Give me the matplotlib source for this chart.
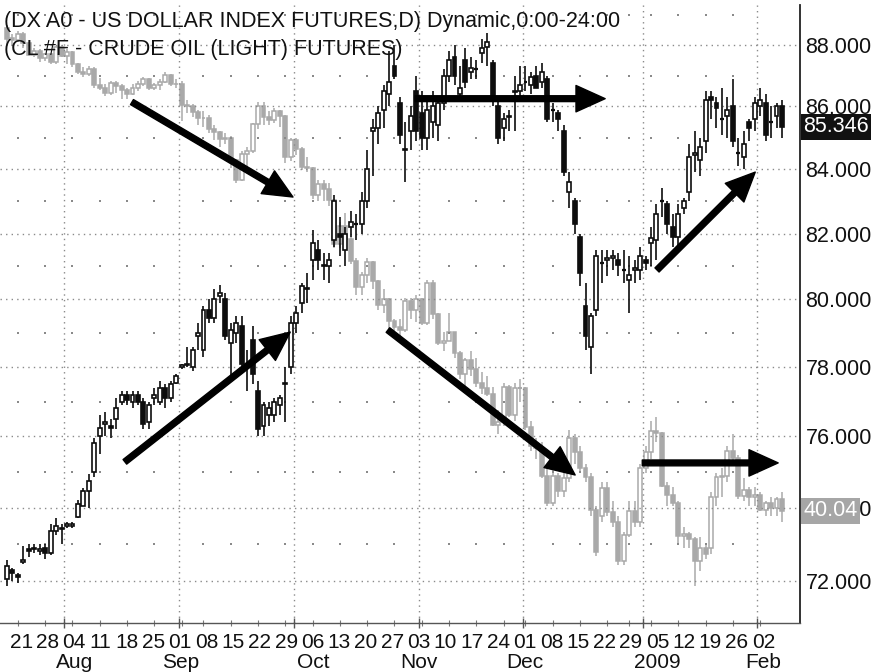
import matplotlib
matplotlib.use("Agg")
import matplotlib.pyplot as plt
import numpy as np
import pandas as pd
from matplotlib.patches import Rectangle
from matplotlib.ticker import FixedLocator, NullLocator, FuncFormatter
from matplotlib.transforms import blended_transform_factory

# ---------------- data ----------------
holidays = ["2008-09-01", "2008-11-27", "2008-12-25", "2009-01-01"]
dates = pd.bdate_range("2008-07-17", "2009-02-06")
dates = dates[~dates.isin(pd.to_datetime(holidays))]

# US Dollar Index futures (black candles)
dx_open = [72.05, 72.30, 72.15, 72.50, 72.85, 72.85, 72.80, 72.90, 72.75, 73.35,
           73.45, 73.50, 73.50, 73.75, 74.05, 74.45, 75.00, 76.00, 76.35, 76.30,
           76.50, 77.00, 77.20, 77.00, 77.20, 77.00, 76.40, 77.10, 77.00, 77.40,
           77.10, 77.55, 78.00, 78.05, 78.00, 78.90, 78.50, 79.70, 79.45, 80.10,
           80.00, 78.70, 79.00, 79.20, 78.05, 78.80, 77.30, 76.30, 76.60, 76.60,
           76.90, 77.50, 78.00, 79.30, 79.90, 80.30, 81.20, 81.50, 81.00, 81.00,
           81.80, 82.00, 81.50, 82.20, 82.30, 82.30, 83.00, 85.20, 85.30, 85.90,
           86.40, 87.30, 86.10, 84.60, 85.20, 86.50, 85.80, 85.00, 85.50, 85.40,
           86.10, 87.00, 87.60, 86.40, 87.50, 87.10, 87.20, 87.75, 87.95, 87.40,
           86.00, 85.30, 85.65, 86.45, 86.50, 86.80, 86.70, 87.00, 86.80, 86.90,
           85.90, 85.80, 85.20, 83.30, 83.00, 81.90, 79.80, 78.60, 79.70, 81.10,
           81.20, 81.25, 81.20, 80.90, 80.60, 80.90, 80.90, 81.20, 81.70, 81.80,
           83.00, 82.90, 82.20, 81.90, 82.80, 83.30, 84.45, 84.30, 84.90, 86.30,
           86.10, 85.60, 85.70, 86.00, 84.50, 84.40, 85.50, 85.60, 86.00, 86.10,
           85.50, 85.70, 86.00]
dx_high = [72.55, 72.35, 72.20, 72.95, 73.00, 73.00, 73.00, 73.00, 73.55, 73.70,
           73.55, 73.60, 73.60, 74.20, 74.55, 74.95, 75.95, 76.60, 76.70, 76.50,
           77.10, 77.30, 77.30, 77.30, 77.30, 77.10, 77.00, 77.40, 77.60, 77.50,
           77.60, 77.80, 78.10, 78.60, 78.60, 79.30, 79.80, 80.00, 80.30, 80.45,
           80.20, 79.30, 79.50, 79.50, 78.50, 79.20, 77.60, 77.00, 77.00, 77.10,
           77.20, 78.00, 79.50, 79.80, 80.50, 80.80, 82.10, 81.80, 81.40, 81.40,
           83.20, 82.50, 82.20, 82.70, 82.60, 83.30, 84.60, 85.60, 86.00, 86.70,
           87.80, 88.00, 86.30, 85.50, 86.00, 87.00, 86.50, 86.30, 86.50, 86.30,
           87.20, 87.80, 88.00, 87.30, 87.90, 87.60, 87.50, 88.20, 88.40, 87.50,
           86.30, 85.80, 85.90, 87.00, 87.30, 87.30, 87.10, 87.30, 87.40, 87.00,
           86.10, 85.90, 85.40, 83.90, 83.10, 82.00, 80.50, 79.60, 81.50, 81.50,
           81.50, 81.50, 81.40, 81.50, 81.30, 81.20, 81.60, 81.30, 82.20, 82.90,
           83.40, 83.00, 82.60, 82.90, 83.10, 84.80, 85.20, 85.00, 86.50, 86.50,
           86.30, 86.60, 86.30, 86.90, 85.00, 85.20, 85.60, 86.30, 86.60, 86.40,
           86.00, 86.10, 86.20]
dx_low = [71.85, 72.00, 71.95, 72.45, 72.65, 72.75, 72.70, 72.60, 72.70, 73.25,
          73.00, 73.45, 73.45, 73.70, 74.05, 74.00, 74.85, 75.50, 76.00, 75.95,
          76.20, 76.90, 76.90, 76.80, 76.90, 76.20, 76.20, 76.90, 76.90, 76.80,
          77.00, 77.50, 77.95, 78.00, 77.90, 78.50, 78.30, 79.30, 79.30, 79.90,
          78.80, 77.70, 78.70, 77.90, 77.30, 77.50, 76.00, 76.00, 76.30, 76.40,
          76.60, 76.40, 77.80, 79.00, 79.60, 79.90, 80.60, 80.90, 80.60, 80.50,
          81.60, 81.30, 81.00, 81.90, 81.80, 82.00, 82.80, 83.80, 84.80, 85.30,
          86.00, 86.90, 84.80, 83.60, 84.60, 84.90, 84.60, 84.60, 85.00, 84.90,
          85.90, 86.80, 86.70, 86.20, 86.60, 86.90, 86.90, 87.40, 87.30, 86.00,
          84.80, 84.90, 85.20, 85.20, 86.20, 86.50, 86.40, 86.60, 86.60, 85.50,
          85.50, 85.20, 83.80, 82.80, 82.00, 80.40, 78.50, 77.80, 79.50, 80.50,
          80.70, 80.90, 80.70, 80.50, 79.60, 80.50, 80.60, 80.90, 81.00, 81.20,
          82.50, 82.00, 81.60, 81.50, 82.60, 83.00, 83.90, 83.80, 84.50, 85.60,
          85.30, 85.10, 85.00, 84.70, 84.10, 84.00, 84.90, 85.20, 85.70, 84.90,
          85.00, 85.30, 85.00]
dx_close = [72.40, 72.20, 72.10, 72.55, 72.80, 72.90, 72.85, 72.75, 73.35, 73.50,
            73.40, 73.55, 73.55, 74.10, 74.45, 74.75, 75.80, 76.25, 76.40, 76.25,
            76.80, 77.20, 77.05, 77.20, 77.00, 76.35, 76.90, 77.20, 77.40, 77.10,
            77.50, 77.75, 78.05, 78.10, 78.50, 79.00, 79.70, 79.45, 80.00, 80.20,
            78.90, 79.10, 79.30, 78.10, 78.00, 77.80, 76.20, 76.90, 76.80, 77.00,
            77.10, 77.55, 79.30, 79.60, 80.40, 80.35, 81.70, 81.20, 81.05, 81.20,
            83.00, 81.90, 82.00, 82.35, 82.30, 83.00, 84.00, 85.30, 85.80, 86.50,
            86.80, 87.00, 85.10, 84.65, 85.70, 85.20, 85.00, 85.90, 86.00, 86.10,
            87.00, 87.50, 87.00, 86.60, 86.80, 87.25, 87.20, 87.90, 88.10, 86.20,
            85.00, 85.60, 85.70, 86.50, 86.70, 86.80, 86.95, 86.60, 87.10, 85.60,
            85.90, 85.60, 83.90, 83.60, 82.30, 80.80, 78.90, 79.50, 81.30, 81.10,
            81.25, 81.30, 81.05, 80.90, 80.75, 80.95, 81.30, 81.10, 81.85, 82.60,
            83.00, 82.30, 81.90, 82.60, 83.00, 84.40, 84.50, 84.70, 86.20, 86.20,
            85.95, 85.60, 85.90, 84.90, 84.50, 84.80, 85.30, 86.10, 86.20, 85.10,
            85.50, 86.00, 85.35]

# Crude oil (light) futures, continuous (grey candles)
cl_open = [133.0, 129.5, 129.0, 131.0, 127.9, 124.4, 125.5, 123.3, 124.7, 122.2,
           126.8, 124.1, 125.1, 121.4, 119.2, 118.6, 120.0, 115.2, 114.5, 113.0,
           116.0, 115.0, 113.8, 112.9, 114.5, 115.6, 117.2, 114.6, 115.4, 116.3,
           118.2, 115.6, 115.5, 109.7, 109.4, 107.9, 106.2, 106.3, 103.3, 102.6,
           100.9, 101.2, 95.7, 91.2, 97.2, 97.9, 104.6, 109.4, 106.6, 105.7,
           108.0, 106.9, 96.4, 100.6, 98.5, 94.0, 93.9, 87.8, 90.1, 89.0,
           86.6, 77.7, 81.2, 78.6, 74.5, 69.9, 71.9, 74.3, 70.9, 66.8,
           67.8, 64.2, 63.2, 62.7, 67.5, 66.0, 67.8, 63.9, 70.5, 65.3,
           60.8, 61.0, 62.4, 59.3, 56.2, 58.2, 57.0, 55.0, 54.4, 53.6,
           49.6, 49.9, 54.5, 50.8, 54.4, 54.4, 49.3, 47.0, 46.8, 43.7,
           40.8, 43.7, 42.1, 43.5, 48.0, 46.3, 44.5, 43.6, 40.1, 39.5,
           42.4, 39.9, 39.0, 35.4, 37.7, 40.0, 39.0, 44.6, 46.3, 48.8,
           48.6, 42.6, 41.7, 40.8, 37.6, 37.8, 37.3, 35.4, 36.5, 36.5,
           41.5, 43.6, 43.7, 46.5, 45.7, 41.6, 42.2, 41.4, 41.7, 40.1,
           40.8, 40.3, 41.2]
cl_high = [134.0, 131.0, 132.0, 131.5, 128.5, 126.5, 126.0, 125.0, 125.0, 127.0,
           127.5, 126.0, 125.5, 121.8, 120.5, 121.0, 120.5, 117.5, 115.5, 116.5,
           116.5, 115.5, 114.5, 115.5, 116.5, 117.8, 117.5, 116.0, 117.0, 119.0,
           118.5, 117.0, 116.5, 111.0, 110.0, 108.5, 108.0, 107.0, 104.5, 102.8,
           102.5, 101.5, 96.0, 98.0, 99.0, 105.0, 110.5, 110.5, 108.0, 109.0,
           108.5, 107.0, 101.0, 101.0, 99.0, 96.5, 94.0, 91.0, 91.0, 90.5,
           86.8, 82.0, 84.0, 79.0, 75.0, 72.5, 75.0, 74.5, 71.0, 69.5,
           68.0, 64.5, 64.5, 68.0, 68.0, 68.5, 68.0, 71.0, 71.0, 65.5,
           62.5, 65.5, 62.5, 59.5, 58.5, 59.5, 58.5, 56.5, 56.0, 54.5,
           51.5, 55.0, 54.8, 55.0, 55.5, 54.5, 50.0, 48.0, 47.5, 44.5,
           44.5, 44.0, 44.0, 49.0, 48.5, 47.0, 45.0, 44.0, 40.5, 43.0,
           43.0, 41.0, 39.5, 38.0, 41.0, 41.0, 45.0, 47.0, 50.0, 50.5,
           48.7, 43.0, 42.5, 41.0, 38.5, 38.0, 37.5, 37.5, 37.0, 42.0,
           44.0, 44.5, 47.0, 48.5, 46.0, 43.5, 42.5, 42.5, 42.0, 41.0,
           41.5, 41.5, 42.0]
cl_low = [127.5, 127.0, 128.5, 126.5, 123.9, 123.5, 122.0, 122.5, 121.5, 121.5,
          123.5, 121.5, 120.5, 118.5, 117.8, 118.0, 114.6, 113.9, 112.2, 112.5,
          113.0, 111.3, 111.5, 112.5, 113.5, 115.0, 114.0, 114.0, 114.0, 116.0,
          115.0, 114.5, 105.5, 107.5, 106.5, 104.5, 104.0, 102.5, 100.5, 99.0,
          99.5, 93.9, 90.5, 90.8, 94.0, 97.5, 103.5, 104.5, 104.5, 105.0,
          104.0, 95.0, 95.5, 97.0, 93.5, 93.0, 87.0, 86.5, 86.5, 85.5,
          77.0, 77.0, 78.0, 74.0, 68.5, 68.5, 70.5, 69.5, 66.0, 65.5,
          62.5, 62.0, 61.5, 62.5, 64.5, 64.0, 63.5, 63.5, 64.5, 60.5,
          59.5, 61.0, 58.5, 55.5, 54.5, 56.0, 54.5, 53.5, 53.3, 49.5,
          48.5, 49.5, 50.5, 50.0, 52.5, 49.0, 46.5, 45.5, 43.5, 40.5,
          40.5, 41.5, 41.5, 43.0, 45.0, 44.0, 43.0, 39.5, 35.8, 39.0,
          39.5, 38.5, 35.0, 35.0, 37.5, 38.5, 38.5, 44.0, 45.5, 47.5,
          42.5, 40.5, 40.5, 37.0, 36.5, 36.5, 33.2, 34.5, 35.5, 36.0,
          40.5, 41.5, 43.0, 45.0, 41.2, 41.0, 40.5, 40.5, 40.0, 39.5,
          39.5, 39.5, 39.0]
cl_close = [129.3, 128.9, 131.0, 128.0, 124.4, 125.5, 123.3, 124.7, 122.2, 126.8,
            124.1, 125.1, 121.4, 119.2, 118.6, 120.0, 115.2, 114.5, 113.0, 116.0,
            115.0, 113.8, 112.9, 114.5, 115.6, 117.2, 114.6, 115.4, 116.3, 118.2,
            115.6, 115.5, 109.7, 109.4, 107.9, 106.2, 106.3, 103.3, 102.6, 100.9,
            101.2, 95.7, 91.2, 97.2, 97.9, 104.6, 109.4, 106.6, 105.7, 108.0,
            106.9, 96.4, 100.6, 98.5, 94.0, 93.9, 87.8, 90.1, 89.0, 86.6,
            77.7, 81.2, 78.6, 74.5, 69.9, 71.9, 74.3, 70.9, 66.8, 67.8,
            64.2, 63.2, 62.7, 67.5, 66.0, 67.8, 63.9, 70.5, 65.3, 60.8,
            61.0, 62.4, 59.3, 56.2, 58.2, 57.0, 55.0, 54.4, 53.6, 49.6,
            49.9, 54.5, 50.8, 54.4, 54.4, 49.3, 47.0, 46.8, 43.7, 40.8,
            43.7, 42.1, 43.5, 48.0, 46.3, 44.5, 43.6, 40.1, 36.2, 42.4,
            39.9, 39.0, 35.4, 37.7, 40.0, 39.0, 44.6, 46.3, 48.8, 48.6,
            42.6, 41.7, 40.8, 37.6, 37.8, 37.3, 35.4, 36.5, 36.0, 41.5,
            43.6, 43.7, 46.5, 45.7, 41.6, 42.2, 41.4, 41.7, 40.1, 40.8,
            40.3, 41.2, 40.04]

dx_ticks = [72, 74, 76, 78, 80, 82, 84, 86, 88]
week_labels = ["21", "28", "04", "11", "18", "25", "01", "08", "15", "22", "29",
               "06", "13", "20", "27", "03", "10", "17", "24", "01", "08", "15",
               "22", "29", "05", "12", "19", "26", "02"]
month_labels = ["Aug", "Sep", "Oct", "Nov", "Dec", "2009", "Feb"]
title1 = "(DX A0 - US DOLLAR INDEX FUTURES,D) Dynamic,0:00-24:00"
title2 = "(CL #F - CRUDE OIL (LIGHT) FUTURES)"
dx_last = 85.346
cl_last = 40.04

# ---------------- figure ----------------
W, H = 873, 672
fig = plt.figure(figsize=(W / 100, H / 100), dpi=100)
fig.patch.set_facecolor("white")
ax_l, ax_r, ax_t, ax_b = 0, 800, 5, 623
ax = fig.add_axes([ax_l / W, 1 - ax_b / H, (ax_r - ax_l) / W, (ax_b - ax_t) / H])
ax2 = ax.twinx()
ax.set_zorder(2)
ax2.set_zorder(1)
ax.patch.set_visible(False)

FONT = ["Liberation Sans", "DejaVu Sans"]
NARROW = ["Liberation Sans Narrow", "Liberation Sans", "DejaVu Sans"]

n = len(dx_close)
x = np.arange(n)
ax.set_yscale("log")
ax2.set_yscale("log")
ax.set_xlim(-1.28, 145.3)
ax2.set_xlim(-1.28, 145.3)
ax.set_ylim(70.87, 89.33)
ax2.set_ylim(30.31, 140.7)

BLACK = "#0d0d0d"
GREY = "#a9a9a9"
body_w = 0.72


def draw_candles(a, o, h, l, c, color, z, lw):
    for i in range(len(o)):
        a.vlines(x[i], l[i], h[i], color=color, lw=lw, zorder=z)
        lo, hi = min(o[i], c[i]), max(o[i], c[i])
        up = c[i] >= o[i]
        if hi - lo < 1e-9:
            a.hlines(lo, x[i] - body_w / 2, x[i] + body_w / 2, color=color,
                     lw=lw + 0.4, zorder=z + 0.1)
        else:
            a.add_patch(Rectangle((x[i] - body_w / 2, lo), body_w, hi - lo,
                                  facecolor="white" if up else color,
                                  edgecolor=color, lw=lw, zorder=z + 0.1))


draw_candles(ax2, cl_open, cl_high, cl_low, cl_close, GREY, 3, 1.1)
draw_candles(ax, dx_open, dx_high, dx_low, dx_close, BLACK, 3, 1.2)

# ---------------- calendar-derived positions ----------------
month_idx = [k for k in range(1, n) if dates[k].month != dates[k - 1].month]
week_idx = [k for k in range(1, n) if dates[k].weekday() < dates[k - 1].weekday()]
week_monday = [dates[k] - pd.Timedelta(days=int(dates[k].weekday())) for k in week_idx]
# weekly labels are spread evenly (calendar weeks) between the first and last week
label_x = np.linspace(week_idx[0], week_idx[-1], len(week_labels)) + 0.6
# month label sits under the first weekly label of that month
month_j = [j for j in range(1, len(week_monday))
           if week_monday[j].month != week_monday[j - 1].month]

# ---------------- grid ----------------
GRID = "#8a8a8a"
for v in dx_ticks:
    ax.axhline(v, color=GRID, lw=1.0, ls=(0, (1, 3)), zorder=1)
for k in month_idx:
    ax.axvline(k - 0.5, color=GRID, lw=1.0, ls=(0, (1, 3)), zorder=1)
odd_vals = [73, 75, 77, 79, 81, 83, 85, 87, 89]
wx = [k for k in week_idx if k not in month_idx]
for v in odd_vals:
    ax.scatter(wx, [v] * len(wx), s=1.8, color=GRID, marker="s", lw=0, zorder=1)

# ---------------- axes styling ----------------
for s in ["top", "left"]:
    ax.spines[s].set_visible(False)
    ax2.spines[s].set_visible(False)
ax2.spines["right"].set_visible(False)
ax2.spines["bottom"].set_visible(False)
ax.spines["right"].set_color("#222222")
ax.spines["bottom"].set_color("#555555")
ax.spines["right"].set_linewidth(1.3)
ax.spines["bottom"].set_linewidth(1.0)
ax2.set_yticks([])
ax2.yaxis.set_minor_locator(NullLocator())
ax2.tick_params(which="both", right=False, labelright=False, left=False,
                labelleft=False, bottom=False, labelbottom=False)

ax.yaxis.tick_right()
ax.yaxis.set_major_locator(FixedLocator(dx_ticks))
ax.yaxis.set_minor_locator(NullLocator())
ax.yaxis.set_major_formatter(FuncFormatter(lambda v, p: f"{v:.3f}"))
ax.tick_params(axis="y", which="major", length=0, pad=4, labelsize=15.5,
               labelcolor="#111111")
for t in ax.get_yticklabels():
    t.set_fontfamily(FONT)

ax.xaxis.set_major_locator(FixedLocator([k - 0.5 for k in month_idx]))
ax.xaxis.set_minor_locator(FixedLocator(week_idx))
ax.xaxis.set_major_formatter(FuncFormatter(lambda v, p: ""))
ax.tick_params(axis="x", which="major", direction="inout", length=7, width=1.0,
               color="#555555")
ax.tick_params(axis="x", which="minor", direction="inout", length=5, width=0.8,
               color="#777777")

# weekly day labels and month labels
tr = blended_transform_factory(ax.transData, fig.transFigure)
for lx, lab in zip(label_x, week_labels):
    ax.text(lx, 1 - 642 / H, lab, transform=tr, ha="center", va="center",
            fontsize=15, family=NARROW, color="#111111", clip_on=False)
for j, lab in zip(month_j, month_labels):
    ax.text(label_x[j], 1 - 663 / H, lab, transform=tr, ha="center", va="center",
            fontsize=15, family=NARROW, color="#111111", clip_on=False)

# titles
fig.text(4 / W, 1 - 22 / H, title1, ha="left", va="center", fontsize=15.5,
         family=FONT, color="#111111", zorder=10)
fig.text(4 / W, 1 - 49 / H, title2, ha="left", va="center", fontsize=15.5,
         family=FONT, color="#111111", zorder=10)

# last-price boxes
trx = blended_transform_factory(ax.transAxes, ax.transData)
ax.text(1.004, dx_last, f"{dx_last:.3f}", transform=trx, ha="left", va="center",
        fontsize=15.5, family=FONT, color="white", zorder=20, clip_on=False,
        bbox=dict(boxstyle="square,pad=0.12", fc="#111111", ec="none"))
trx2 = blended_transform_factory(ax.transAxes, ax2.transData)
ax.text(1.004, cl_last, f"{cl_last:.2f}", transform=trx2, ha="left", va="center",
        fontsize=15.5, family=FONT, color="white", zorder=20, clip_on=False,
        bbox=dict(boxstyle="square,pad=0.12", fc="#a6a6a6", ec="none"))

# trend arrows (annotations)
arrow_kw = dict(facecolor="black", edgecolor="black", width=4.2, headwidth=19,
                headlength=21, shrink=0)
arrows = [((22.9, 86.14), (52.4, 83.13)),
          ((21.6, 75.28), (51.9, 79.03)),
          ((69.8, 79.09), (104.1, 74.91)),
          ((74.8, 86.25), (109.6, 86.25)),
          ((119.1, 80.89), (137.1, 83.91)),
          ((116.4, 75.25), (141.3, 75.25))]
for start, tip in arrows:
    ax.annotate("", xy=tip, xytext=start, arrowprops=arrow_kw, zorder=15)

fig.savefig("out.png", dpi=100, facecolor="white")
